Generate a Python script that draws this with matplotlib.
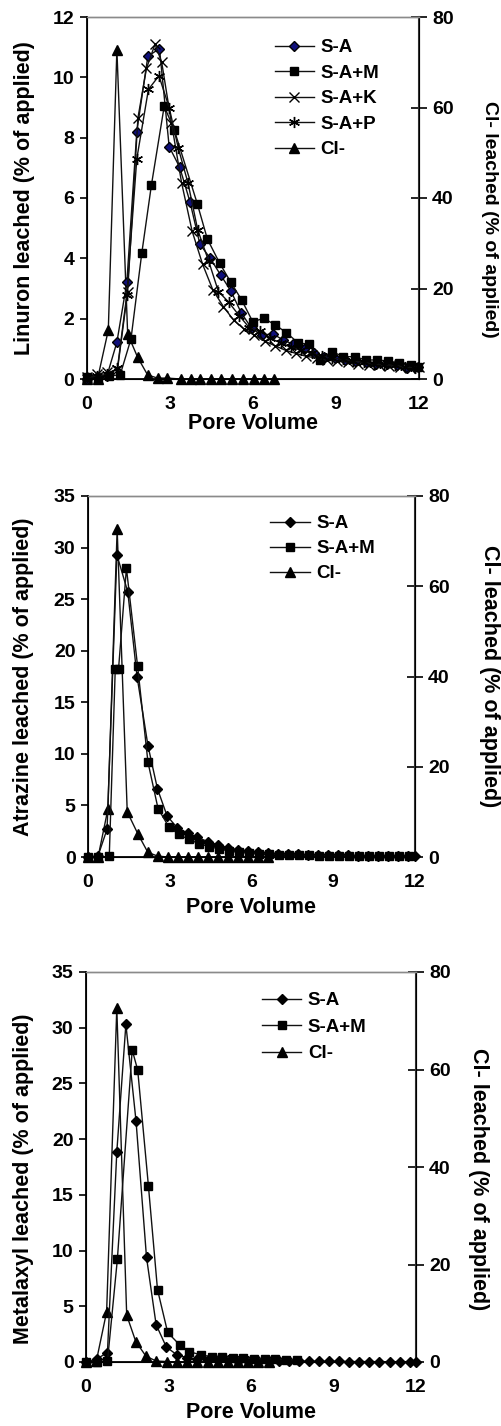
import matplotlib
matplotlib.use('Agg')
import matplotlib.pyplot as plt

plt.rcParams['font.family'] = ['Liberation Sans', 'DejaVu Sans']
plt.rcParams['font.weight'] = 'bold'
plt.rcParams['font.size'] = 14

# ---- Linuron ----
lin_sa_x = [0, 0.36, 0.72, 1.08, 1.44, 1.80, 2.20, 2.62, 2.97, 3.35, 3.72, 4.08, 4.44, 4.83, 5.20, 5.57,
            5.95, 6.33, 6.71, 7.08, 7.45, 7.83, 8.20, 8.58, 8.95, 9.33, 9.70, 10.08, 10.45, 10.83, 11.20, 11.58, 11.95]
lin_sa_y = [0, 0.05, 0.1, 1.22, 3.2, 8.2, 10.7, 10.95, 7.7, 7.02, 5.88, 4.47, 4.02, 3.45, 2.92, 2.2,
            1.68, 1.45, 1.5, 1.3, 1.15, 1.0, 0.85, 0.72, 0.7, 0.63, 0.6, 0.55, 0.5, 0.5, 0.45, 0.35, 0.4]
lin_sam_x = [0, 0.38, 0.78, 1.20, 1.59, 1.98, 2.33, 2.79, 3.15, 3.99, 4.35, 4.80, 5.19, 5.59, 5.99, 6.39,
             6.81, 7.20, 7.63, 8.02, 8.43, 8.85, 9.27, 9.67, 10.08, 10.47, 10.87, 11.28, 11.70, 11.97]
lin_sam_y = [0.05, 0.0, 0.1, 0.14, 1.33, 4.17, 6.44, 9.04, 8.27, 5.8, 4.64, 3.83, 3.22, 2.62, 1.9, 2.01,
             1.79, 1.54, 1.2, 1.15, 0.63, 0.91, 0.74, 0.74, 0.63, 0.63, 0.6, 0.52, 0.46, 0.41]
lin_sak_x = [0, 0.37, 0.74, 1.10, 1.47, 1.84, 2.15, 2.46, 2.70, 3.05, 3.42, 3.80, 4.18, 4.55, 4.93, 5.30,
             5.68, 6.05, 6.43, 6.80, 7.18, 7.55, 7.93, 8.30, 8.68, 9.05, 9.43, 9.80, 10.18, 10.55, 10.93, 11.30, 11.68, 12.0]
lin_sak_y = [0.05, 0.17, 0.22, 0.3, 2.9, 8.65, 10.3, 11.1, 10.5, 8.5, 6.5, 4.9, 3.8, 2.95, 2.4, 1.95,
             1.65, 1.45, 1.25, 1.1, 0.95, 0.85, 0.75, 0.7, 0.62, 0.6, 0.55, 0.5, 0.48, 0.45, 0.42, 0.4, 0.38, 0.4]
lin_sap_x = [0, 0.37, 0.74, 1.10, 1.44, 1.80, 2.22, 2.60, 2.97, 3.30, 3.65, 4.00, 4.40, 4.75, 5.12, 5.50,
             5.87, 6.25, 6.62, 7.00, 7.37, 7.75, 8.12, 8.50, 8.87, 9.25, 9.62, 10.00, 10.37, 10.75, 11.12, 11.50, 11.87]
lin_sap_y = [0.05, 0.1, 0.15, 0.35, 2.8, 7.3, 9.6, 10.05, 9.0, 7.65, 6.5, 4.95, 3.9, 2.9, 2.55, 2.1,
             1.7, 1.6, 1.35, 1.2, 1.05, 0.95, 0.85, 0.75, 0.7, 0.65, 0.6, 0.55, 0.5, 0.48, 0.45, 0.4, 0.38]
lin_cl_x = [0, 0.38, 0.77, 1.08, 1.47, 1.83, 2.19, 2.55, 2.90, 3.39, 3.75, 4.10, 4.49, 4.85, 5.25, 5.63, 6.03, 6.39, 6.75]
lin_cl_y = [0, 0, 10.8, 72.8, 9.95, 4.8, 0.9, 0.2, 0.2, 0, 0, 0, 0, 0, 0, 0, 0, 0, 0]

# ---- Atrazine ----
atr_sa_x = [0, 0.36, 0.70, 1.06, 1.46, 1.80, 2.20, 2.55, 2.90, 3.28, 3.68, 4.00, 4.40, 4.77, 5.14, 5.50, 5.87,
            6.24, 6.60, 6.97, 7.34, 7.70, 8.07, 8.44, 8.80, 9.17, 9.54, 9.90, 10.27, 10.64, 11.00, 11.37, 11.74, 12.0]
atr_sa_y = [0, 0.05, 2.7, 29.3, 25.7, 17.5, 10.8, 6.6, 4.0, 2.8, 2.3, 1.9, 1.5, 1.2, 0.9, 0.7, 0.55,
            0.45, 0.38, 0.32, 0.28, 0.25, 0.22, 0.2, 0.18, 0.16, 0.15, 0.13, 0.12, 0.1, 0.1, 0.08, 0.08, 0.07]
atr_sam_x = [0, 0.38, 0.78, 1.00, 1.12, 1.41, 1.82, 2.20, 2.57, 2.97, 3.33, 3.70, 4.07, 4.44, 4.80, 5.17, 5.54,
             5.90, 6.27, 6.64, 7.00, 7.37, 7.74, 8.10, 8.47, 8.84, 9.20, 9.57, 9.94, 10.30, 10.67, 11.04, 11.40, 11.77]
atr_sam_y = [0, 0, 0.05, 18.2, 18.2, 28.0, 18.5, 9.2, 4.7, 2.9, 2.2, 1.7, 1.3, 1.0, 0.8, 0.6, 0.5,
             0.4, 0.33, 0.28, 0.24, 0.2, 0.18, 0.16, 0.14, 0.12, 0.11, 0.1, 0.09, 0.08, 0.07, 0.07, 0.06, 0.06]
atr_cl_x = [0, 0.37, 0.73, 1.07, 1.44, 1.84, 2.20, 2.56, 2.93, 3.30, 3.66, 4.03, 4.40, 4.76, 5.13, 5.50, 5.86, 6.23, 6.60]
atr_cl_y = [0, 0, 10.6, 72.6, 10.0, 5.0, 1.0, 0.2, 0, 0, 0, 0, 0, 0, 0, 0, 0, 0, 0]

# ---- Metalaxyl ----
met_sa_x = [0, 0.39, 0.78, 1.12, 1.45, 1.82, 2.20, 2.55, 2.92, 3.30, 3.68, 4.05, 4.42, 4.80, 5.17, 5.54, 5.90,
            6.27, 6.64, 7.00, 7.37, 7.74, 8.10, 8.47, 8.84, 9.20, 9.57, 9.94, 10.30, 10.67, 11.04, 11.40, 11.77, 12.0]
met_sa_y = [0, 0.27, 0.85, 18.85, 30.3, 21.6, 9.4, 3.35, 1.35, 0.65, 0.38, 0.25, 0.2, 0.17, 0.15, 0.12, 0.1,
            0.1, 0.08, 0.08, 0.07, 0.06, 0.06, 0.05, 0.05, 0.05, 0.04, 0.04, 0.04, 0.03, 0.03, 0.03, 0.03, 0.03]
met_sam_x = [0, 0.39, 0.78, 1.14, 1.68, 1.88, 2.27, 2.60, 2.97, 3.42, 3.76, 4.18, 4.57, 4.93, 5.33, 5.70,
             6.10, 6.50, 6.88, 7.27, 7.66]
met_sam_y = [0, 0, 0.06, 9.2, 28.0, 26.2, 15.8, 6.5, 2.65, 1.5, 0.93, 0.63, 0.48, 0.45, 0.4, 0.38,
             0.3, 0.3, 0.25, 0.22, 0.2]
met_cl_x = [0, 0.38, 0.75, 1.12, 1.48, 1.81, 2.18, 2.55, 2.93, 3.30, 3.68, 4.05, 4.42, 4.80, 5.17, 5.54, 5.90, 6.27, 6.64]
met_cl_y = [0, 0.3, 10.3, 72.6, 9.6, 4.2, 1.2, 0.2, 0.1, 0, 0, 0, 0, 0, 0, 0, 0, 0, 0]

x_ticks = [0, 3, 6, 9, 12]
cl_ticks = [0, 20, 40, 60, 80]

W, H = 501, 1426
fig = plt.figure(figsize=(W / 100, H / 100), dpi=100)


def px_axes(left, right, top, bottom):
    return fig.add_axes([left / W, (H - bottom) / H, (right - left) / W, (bottom - top) / H])


line_kw = dict(color='#111111', lw=1.0, clip_on=False, markeredgecolor='black')
leg_kw = dict(loc='upper left', frameon=False, handlelength=2.1, handletextpad=0.35,
              borderpad=0, borderaxespad=0, fontsize=13.5)


def setup(ax, ax2, ymax, ystep, ylabel, lab_pos, rlab_pos, xlab_y, rlab_size=15.5):
    ax.set_xlim(0, 12)
    ax.set_ylim(0, ymax)
    ax.set_xticks(x_ticks)
    ax.set_yticks(list(range(0, ymax + 1, ystep)))
    ax2.set_ylim(0, 80)
    ax2.set_yticks(cl_ticks)
    for a in (ax, ax2):
        a.spines['top'].set_color('#8a8a8a')
        a.spines['top'].set_linewidth(1.0)
    ax.spines['left'].set_linewidth(1.3)
    ax.spines['bottom'].set_linewidth(1.3)
    ax2.spines['right'].set_color('#333333')
    ax2.spines['right'].set_linewidth(1.5)
    ax.tick_params(axis='y', direction='out', length=5, width=1.2, pad=4, labelsize=14)
    ax.tick_params(axis='x', length=0, pad=12, labelsize=14)
    ax2.tick_params(axis='y', direction='inout', length=11, width=1.2, pad=4, labelsize=14, colors='black')
    ax.set_ylabel(ylabel, fontsize=15.5, fontweight='bold', va='center')
    ax.yaxis.set_label_coords(*lab_pos)
    ax2.set_ylabel('Cl- leached (% of applied)', fontsize=rlab_size, fontweight='bold', rotation=270,
                   va='center')
    ax2.yaxis.set_label_coords(*rlab_pos)
    ax.set_xlabel('Pore Volume', fontsize=15.5, fontweight='bold', va='center')
    ax.xaxis.set_label_coords(0.5, xlab_y)
    ax.set_zorder(ax2.get_zorder() + 1)
    ax.patch.set_visible(False)


# panel 1: Linuron
ax = px_axes(87, 419, 17, 379)
ax2 = ax.twinx()
h1, = ax.plot(lin_sa_x, lin_sa_y, marker='D', ms=5, mfc='#10107a', **line_kw)
h2, = ax.plot(lin_sam_x, lin_sam_y, marker='s', ms=6, mfc='black', **line_kw)
h3, = ax.plot(lin_sak_x, lin_sak_y, marker='x', ms=7, mew=1.0, **line_kw)
h4, = ax.plot(lin_sap_x, lin_sap_y, marker=(6, 2, 0), ms=8, mew=1.0, **line_kw)
h5, = ax2.plot(lin_cl_x, lin_cl_y, marker='^', ms=6.5, mfc='black', **line_kw)
setup(ax, ax2, 12, 2, 'Linuron leached (% of applied)', (-0.188, 0.5), (1.211, 0.44), -0.122,
      rlab_size=14)
ax.legend([h1, h2, h3, h4, h5], ['S-A', 'S-A+M', 'S-A+K', 'S-A+P', 'Cl-'],
          bbox_to_anchor=(0.565, 0.939), labelspacing=0.45, **leg_kw)

# panel 2: Atrazine
ax = px_axes(88, 415, 496, 857)
ax2 = ax.twinx()
h1, = ax.plot(atr_sa_x, atr_sa_y, marker='D', ms=5, mfc='black', **line_kw)
h2, = ax.plot(atr_sam_x, atr_sam_y, marker='s', ms=6, mfc='black', **line_kw)
h5, = ax2.plot(atr_cl_x, atr_cl_y, marker='^', ms=6.5, mfc='black', **line_kw)
setup(ax, ax2, 35, 5, 'Atrazine leached (% of applied)', (-0.196, 0.5), (1.229, 0.5), -0.14)
ax.legend([h1, h2, h5], ['S-A', 'S-A+M', 'Cl-'], bbox_to_anchor=(0.558, 0.947),
          labelspacing=0.42, **leg_kw)

# panel 3: Metalaxyl
ax = px_axes(86, 416, 972, 1362)
ax2 = ax.twinx()
h1, = ax.plot(met_sa_x, met_sa_y, marker='D', ms=5, mfc='black', **line_kw)
h2, = ax.plot(met_sam_x, met_sam_y, marker='s', ms=6, mfc='black', **line_kw)
h5, = ax2.plot(met_cl_x, met_cl_y, marker='^', ms=6.5, mfc='black', **line_kw)
setup(ax, ax2, 35, 5, 'Metalaxyl leached (% of applied)', (-0.188, 0.47), (1.188, 0.47), -0.13)
ax.legend([h1, h2, h5], ['S-A', 'S-A+M', 'Cl-'], bbox_to_anchor=(0.533, 0.948),
          labelspacing=0.5, **leg_kw)

fig.savefig('out.png', dpi=100)
